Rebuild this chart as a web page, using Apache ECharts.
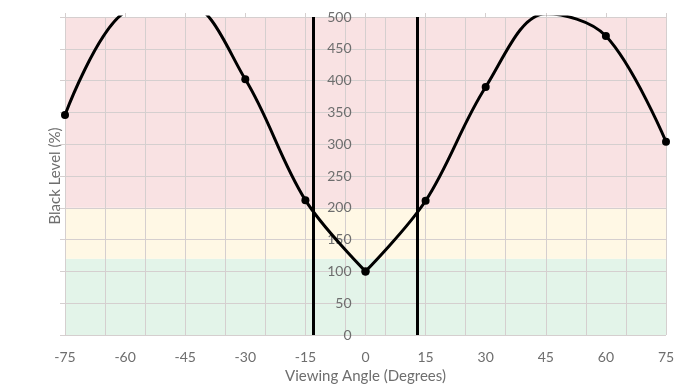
<!DOCTYPE html>
<html>
<head>
<meta charset="utf-8">
<script src="https://cdn.jsdelivr.net/npm/echarts@6/dist/echarts.min.js"></script>
<style>
html,body{margin:0;padding:0;background:#fff;}
#chart{width:692px;height:390px;}
</style>
</head>
<body>
<div id="chart"></div>
<script>
// ---- data ----
const angles = [-75, -60, -45, -30, -15, 0, 15, 30, 45, 60, 75];
const blackLevel = [346, 508, 522, 402, 212, 100, 211, 390, 505, 470, 304];
const xTickLabels = [-75, -60, -45, -30, -15, 0, 15, 30, 45, 60, 75];
const xGridStep = 10;          // vertical grid lines every 10 degrees starting at -75
const yTicks = [0, 50, 100, 150, 200, 250, 300, 350, 400, 450, 500];
const cutoffAngles = [-13, 13];
const bandBreaks = [0, 120, 200, 500];   // green / yellow / red
const xName = 'Viewing Angle (Degrees)';
const yName = 'Black Level (%)';

const xMin = xTickLabels[0], xMax = xTickLabels[xTickLabels.length - 1];
const yMin = yTicks[0], yMax = yTicks[yTicks.length - 1];
const centerIdx = angles.indexOf(0);
const pairs = angles.map((a, i) => [a, blackLevel[i]]);
const leftData = pairs.slice(0, centerIdx + 1);
const rightData = pairs.slice(centerIdx);

const W = 692, H = 390;
const GRID = {left: 65, right: 26, top: 17, bottom: 55};
const plotW = W - GRID.left - GRID.right;
// offset (px) that moves the right-hand y axis to the x = 0 position
const zeroOffset = -plotW * (xMax - 0) / (xMax - xMin);

const FONT = 'Lato';
const TXT = '#6e6e6e';
const GRIDC = '#d5cfcf';
const bandColors = ['#e3f4e9', '#fff8e5', '#f9e2e3'];

const chart = echarts.init(document.getElementById('chart'), null, {renderer: 'canvas'});
const lineSeries = (data) => ({
  type: 'line',
  xAxisIndex: 1,
  yAxisIndex: 0,
  data: data,
  smooth: 0.35,
  clip: true,
  symbol: 'circle',
  symbolSize: 8,
  itemStyle: {color: '#000'},
  lineStyle: {color: '#000', width: 3},
  z: 3,
  animation: false
});

chart.setOption({
  animation: false,
  grid: Object.assign({containLabel: false}, GRID),
  xAxis: [
    { // bottom: shifted scale for 10-degree grid, labels at every 15
      type: 'value', position: 'bottom', z: 1.5,
      min: 0, max: xMax - xMin, interval: xGridStep,
      axisLine: {show: false, onZero: false}, axisTick: {show: false},
      splitLine: {show: true, lineStyle: {color: GRIDC, width: 1}},
      axisLabel: {
        customValues: xTickLabels.map(v => v - xMin),
        formatter: v => String(v + xMin),
        color: TXT, fontFamily: FONT, fontSize: 14, margin: 15
      },
      name: xName, nameLocation: 'middle', nameGap: 34,
      nameTextStyle: {color: TXT, fontFamily: FONT, fontSize: 15}
    },
    { // top: real angle scale, tick marks every 15
      type: 'value', position: 'top', z: 1.5,
      min: xMin, max: xMax, interval: 15,
      axisLine: {show: false, onZero: false},
      axisTick: {show: true, length: 4, lineStyle: {color: GRIDC}},
      axisLabel: {show: false},
      splitLine: {show: false}
    }
  ],
  yAxis: [
    { // left: grid lines & outer ticks
      type: 'value', position: 'left', z: 1.5,
      min: yMin, max: yMax, interval: 50,
      axisLine: {show: false, onZero: false},
      axisTick: {show: true, length: 5, lineStyle: {color: GRIDC}},
      axisLabel: {show: false},
      splitLine: {show: true, lineStyle: {color: GRIDC, width: 1}},
      name: yName, nameLocation: 'middle', nameGap: 2, nameRotate: 90,
      nameTextStyle: {color: TXT, fontFamily: FONT, fontSize: 15}
    },
    { // axis through x = 0 with labels on its left
      type: 'value', position: 'right', z: 1.5, offset: zeroOffset,
      min: yMin, max: yMax, interval: 50,
      axisLine: {show: true, onZero: false, lineStyle: {color: GRIDC, width: 1}},
      axisTick: {show: false},
      axisLabel: {inside: true, margin: 14, color: TXT, fontFamily: FONT, fontSize: 14},
      splitLine: {show: false}
    }
  ],
  series: [
    {
      type: 'line', xAxisIndex: 1, yAxisIndex: 0, data: [], silent: true, z: 1,
      markArea: {
        silent: true,
        data: bandBreaks.slice(0, -1).map((b, i) => [
          {yAxis: b, itemStyle: {color: bandColors[i], opacity: 1}},
          {yAxis: bandBreaks[i + 1]}
        ])
      },
      markLine: {
        silent: true, symbol: 'none', label: {show: false}, z: 6,
        lineStyle: {color: '#000', width: 3, type: 'solid'},
        data: cutoffAngles.map(a => ({xAxis: a}))
      }
    },
    lineSeries(leftData),
    lineSeries(rightData)
  ]
});
</script>
</body>
</html>
